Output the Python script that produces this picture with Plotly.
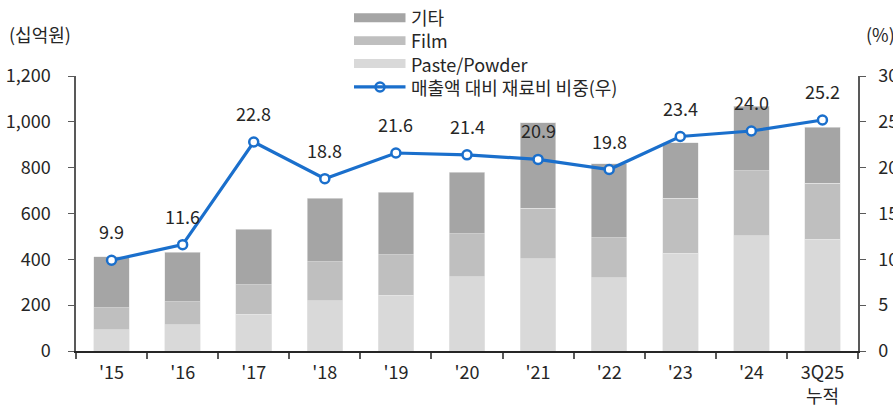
import plotly.graph_objects as go

categories = ["'15", "'16", "'17", "'18", "'19", "'20", "'21", "'22", "'23", "'24", "3Q25<br>누적"]
paste = [92, 115, 160, 220, 244, 323, 402, 320, 427, 502, 488]
film = [97, 100, 129, 169, 176, 188, 222, 174, 240, 284, 245]
etc = [222, 216, 242, 278, 272, 268, 373, 323, 242, 281, 243]
ratio = [9.9, 11.6, 22.8, 18.8, 21.6, 21.4, 20.9, 19.8, 23.4, 24.0, 25.2]

names = ["기타", "Film", "Paste/Powder", "매출액 대비 재료비 비중(우)"]
colors = ["#a5a5a5", "#bfbfbf", "#d9d9d9"]
line_color = "#1a6fcc"
FONT = "Noto Sans CJK KR"
TXT = "#262626"
FS = 18

fig = go.Figure()
for vals, name, col in [(paste, names[2], colors[2]), (film, names[1], colors[1]), (etc, names[0], colors[0])]:
    fig.add_trace(go.Bar(x=categories, y=vals, name=name, marker=dict(color=col, line=dict(color="#e6e6e6", width=0.6)),
                         width=0.5, showlegend=False))
fig.add_trace(go.Scatter(x=categories, y=ratio, name=names[3], yaxis="y2", mode="lines+markers",
                         line=dict(color=line_color, width=3.2),
                         marker=dict(size=9, color="white", line=dict(color=line_color, width=2.5)),
                         showlegend=False))

for c, v in zip(categories, ratio):
    fig.add_annotation(x=c, y=v, yref="y2", text=f"{v:.1f}", showarrow=False, yshift=29,
                       font=dict(family=FONT, size=FS, color=TXT))

# plot area geometry helpers (pixels -> paper)
L, R, T, B = 76, 858, 75.5, 351.5
def px(x):
    return (x - L) / (R - L)
def py(y):
    return (B - y) / (B - T)

# manual legend
leg_y = [17, 40, 63, 86.5]
for i in range(3):
    fig.add_shape(type="rect", xref="paper", yref="paper", x0=px(354), x1=px(405.5),
                  y0=py(leg_y[i] + 4.5), y1=py(leg_y[i] - 4.5), fillcolor=colors[i], line=dict(width=0))
fig.add_shape(type="line", xref="paper", yref="paper", x0=px(354), x1=px(405.5), y0=py(leg_y[3]), y1=py(leg_y[3]),
              line=dict(color=line_color, width=3.2))
fig.add_trace(go.Scatter(x=[px(380)], y=[py(leg_y[3])], xaxis="x3", yaxis="y3", mode="markers",
                         marker=dict(size=9, color="white", line=dict(color=line_color, width=2.5)),
                         showlegend=False, hoverinfo="skip", cliponaxis=False))
fig.add_annotation(xref="paper", yref="paper", x=px(409), y=py(sum(leg_y) / 4), text="<br>".join(names),
                   showarrow=False, xanchor="left", yanchor="middle", align="left",
                   font=dict(family=FONT, size=FS, color=TXT))

fig.add_annotation(xref="paper", yref="paper", x=px(7), y=py(33), text="(십억원)", showarrow=False,
                   xanchor="left", yanchor="middle", font=dict(family=FONT, size=FS, color=TXT))
fig.add_annotation(xref="paper", yref="paper", x=px(864), y=py(33), text="(%)", showarrow=False,
                   xanchor="left", yanchor="middle", font=dict(family=FONT, size=FS, color=TXT))

fig.update_layout(
    width=893, height=412,
    margin=dict(l=L, r=893 - R, t=T, b=412 - B, autoexpand=False),
    barmode="stack", bargap=0.5,
    plot_bgcolor="white", paper_bgcolor="white",
    font=dict(family=FONT, size=FS, color=TXT),
    showlegend=False,
    xaxis=dict(type="category", range=[-0.5, len(categories) - 0.5], showline=True, linecolor="#262626", linewidth=1.5,
               ticks="outside", tickson="boundaries", ticklen=6, tickcolor="#595959", tickwidth=1.5,
               ticklabelstandoff=5, showgrid=False, zeroline=False, automargin=False),
    yaxis=dict(range=[0, 1200], dtick=200, tickformat=",d", showline=True, linecolor="#595959", linewidth=1.5,
               ticks="outside", ticklen=6, tickcolor="#595959", showgrid=False, zeroline=False,
               ticklabelstandoff=14, automargin=False),
    yaxis2=dict(range=[0, 30], dtick=5, overlaying="y", side="right", showline=True, linecolor="#595959",
                linewidth=1.5, ticks="outside", ticklen=6, tickcolor="#595959", showgrid=False, zeroline=False,
                ticklabelstandoff=9, automargin=False),
    xaxis3=dict(range=[0, 1], visible=False, overlaying="x", fixedrange=True),
    yaxis3=dict(range=[0, 1], visible=False, overlaying="y", fixedrange=True),
)

fig.write_html("out.html", config={"displayModeBar": False},
               post_script="document.body.style.margin='0';document.body.style.overflow='hidden';")
